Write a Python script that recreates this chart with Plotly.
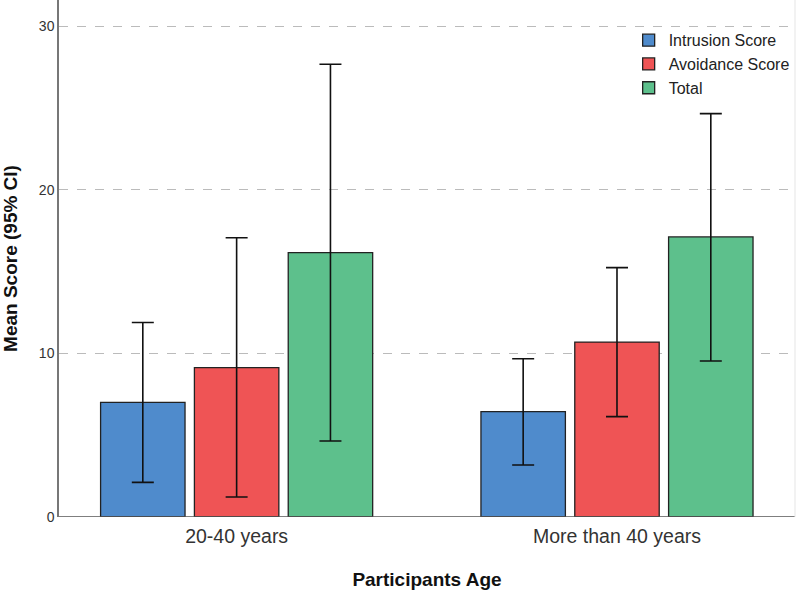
import plotly.graph_objects as go

categories = ["20-40 years", "More than 40 years"]
series_names = ["Intrusion Score", "Avoidance Score", "Total"]
means = {
    "Intrusion Score": [7.01, 6.44],
    "Avoidance Score": [9.13, 10.70],
    "Total": [16.17, 17.13],
}
ci_upper = {
    "Intrusion Score": [11.90, 9.68],
    "Avoidance Score": [17.08, 15.25],
    "Total": [27.69, 24.67],
}
ci_lower = {
    "Intrusion Score": [2.12, 3.18],
    "Avoidance Score": [1.22, 6.14],
    "Total": [4.65, 9.54],
}
colors = {
    "Intrusion Score": "#4F8BCC",
    "Avoidance Score": "#EF5455",
    "Total": "#5DC08C",
}
y_ticks = [0, 10, 20, 30]

fig = go.Figure()
xpos = list(range(len(categories)))
for name in series_names:
    m = means[name]
    up = [u - v for u, v in zip(ci_upper[name], m)]
    lo = [v - l for v, l in zip(m, ci_lower[name])]
    fig.add_trace(go.Bar(
        x=xpos, y=m, name=name,
        marker=dict(color=colors[name], line=dict(color="#222222", width=1.3)),
        error_y=dict(type="data", symmetric=False, array=up, arrayminus=lo,
                     color="#111111", thickness=1.6, width=11),
    ))

fig.update_layout(
    width=797, height=590,
    margin=dict(l=59, r=2, t=0, b=73, autoexpand=False),
    paper_bgcolor="white", plot_bgcolor="white",
    barmode="group", bargap=0.26, bargroupgap=0.10,
    font=dict(family="Arial, Liberation Sans, sans-serif", color="#222222"),
    showlegend=True,
    legend=dict(x=0.774, y=0.955, xanchor="left", yanchor="top",
                bgcolor="rgba(255,255,255,0)", font=dict(size=16, color="#222222"),
                itemwidth=30, tracegroupgap=0),
    xaxis=dict(
        range=[-0.467, 1.468], tickvals=xpos, ticktext=categories,
        showgrid=False, zeroline=False, showline=False, automargin=False,
        tickfont=dict(size=19.5, color="#333333"), ticks="", ticklabelstandoff=5,
        title=dict(text="<b>Participants Age</b>", font=dict(size=19, color="#111111"), standoff=28),
    ),
    yaxis=dict(
        range=[0, 31.62], tickvals=y_ticks, automargin=False,
        showgrid=True, gridcolor="#BBBBBB", griddash="dash", gridwidth=1,
        zeroline=False, showline=True, linecolor="#777777", linewidth=1.5,
        ticks="", tickfont=dict(size=14, color="#333333"),
        title=dict(text="<b>Mean Score (95% CI)</b>", font=dict(size=19, color="#111111"), standoff=16),
    ),
)
fig.add_shape(type="line", xref="paper", yref="y", x0=0, x1=1, y0=0, y1=0,
              line=dict(color="#555555", width=1.5))
fig.add_shape(type="line", xref="paper", yref="paper", x0=1, x1=1, y0=0, y1=1,
              line=dict(color="#E5E5E5", width=1))

fig.write_html("out.html", config={"displayModeBar": False},
               post_script="document.body.style.margin='0';")
